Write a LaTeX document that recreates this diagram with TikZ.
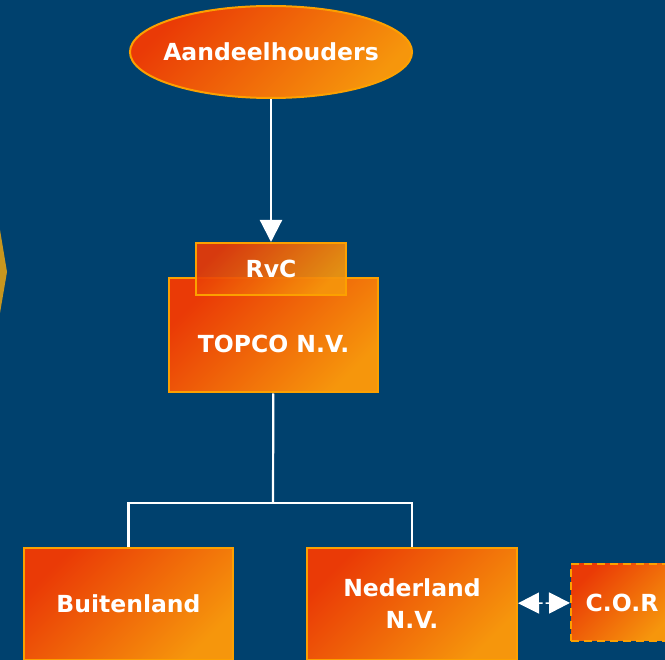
\documentclass[tikz,border=0pt]{standalone}
\usepackage{fontspec}
\setmainfont{DejaVu Sans}
\usetikzlibrary{arrows.meta,positioning,shapes.geometric}
\definecolor{bgblue}{RGB}{0,65,110}
\definecolor{orred}{RGB}{234,58,6}
\definecolor{orlight}{RGB}{246,150,12}
\definecolor{orline}{RGB}{252,160,0}
\definecolor{arrgold}{RGB}{200,150,30}

\begin{document}
\begin{tikzpicture}[x=1pt, y=-1pt,
  unit/.style={draw=orline, line width=2pt, top color=orred, bottom color=orlight,
    shading angle=45, text=white, font=\fontsize{23.5}{32}\selectfont\bfseries,
    align=center, inner sep=0pt},
  conn/.style={draw=white, line width=2.2pt},
  tip/.style={-{Triangle[length=22pt, width=22pt]}}]
% background and frame
\fill[bgblue] (0,0) rectangle (665,660);
\useasboundingbox (0,0) rectangle (665,660);
\fill[arrgold] (0,230) -- (7,272) -- (0,313) -- cycle;
% Top: shareholders
\node[unit, ellipse, inner xsep=-8pt, minimum width=282pt, minimum height=92pt] (aandeel) at (271,52) {Aandeelhouders};
% Middle: holding with supervisory board
\node[unit, rectangle, minimum width=209pt, minimum height=114pt] (topco) at (273.5,335.5) {\raisebox{-8pt}[\height][0pt]{TOPCO N.V.}};
\node[unit, rectangle, fill opacity=0.92, text opacity=1, minimum width=150pt, minimum height=52pt] (rvc) at (271,269) {RvC};
\draw[conn, tip] (aandeel) -- (rvc);
% Bottom: subsidiaries
\node[unit, rectangle, minimum width=209pt, minimum height=112pt] (buiten) at (128.5,604) {Buitenland};
\node[unit, rectangle, minimum width=210pt, minimum height=112pt] (neder) at (412,604) {Nederland\\N.V.};
\coordinate (split) at (273,503);
\draw[conn] (topco) -- (split);
\draw[conn] (split) -| (buiten);
\draw[conn] (split) -| (neder);
% Right: works council
\node[unit, rectangle, dashed, dash pattern=on 8pt off 5pt, minimum width=102pt, minimum height=77pt] (cor) at (622,602.5) {C.O.R};
\draw[conn, line width=1.5pt, dash pattern=on 4pt off 3pt,
  {Triangle[length=21pt, width=21pt]}-{Triangle[length=21pt, width=21pt]}] (neder) -- (cor);
\end{tikzpicture}
\end{document}
